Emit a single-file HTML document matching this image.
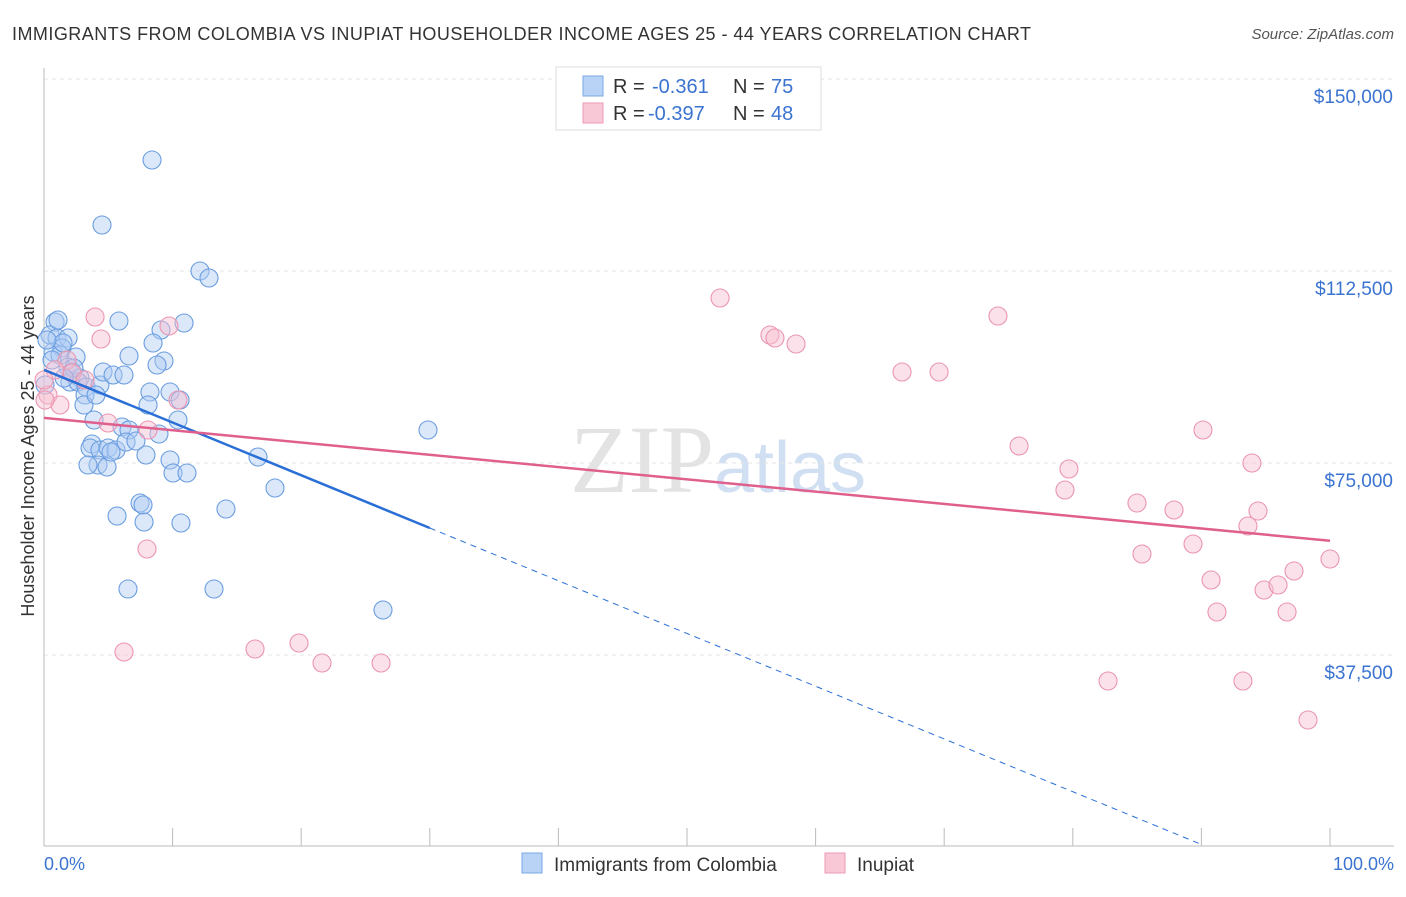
<!DOCTYPE html>
<html><head><meta charset="utf-8"><style>
body{margin:0;background:#fff;font-family:"Liberation Sans",sans-serif;}
</style></head><body>
<svg width="1406" height="892" xmlns="http://www.w3.org/2000/svg" font-family="Liberation Sans, sans-serif">
<text x="12" y="40" font-size="18" fill="#333" textLength="1019" lengthAdjust="spacing">IMMIGRANTS FROM COLOMBIA VS INUPIAT HOUSEHOLDER INCOME AGES 25 - 44 YEARS CORRELATION CHART</text>
<text x="1394" y="39" font-size="15" fill="#555" text-anchor="end" font-style="italic">Source: ZipAtlas.com</text>
<text x="718" y="492" font-size="96" text-anchor="middle" fill="#ddd" font-family="Liberation Serif, serif" opacity="0.8">ZIP<tspan fill="#c6d8ef" font-family="Liberation Sans, sans-serif" font-size="72">atlas</tspan></text>
<g id="grid"></g><g id="axes"></g><g id="pts"></g><g id="lines"></g>
<text transform="translate(34,456) rotate(-90)" font-size="18" fill="#333" text-anchor="middle">Householder Income Ages 25 - 44 years</text>
<text x="44" y="870" font-size="18" fill="#3a73d0">0.0%</text>
<text x="1394" y="870" font-size="18" fill="#3a73d0" text-anchor="end">100.0%</text>
<g>
<rect x="556" y="67" width="265" height="63" fill="#fff" stroke="#ddd"/>
<rect x="583" y="76" width="20" height="20" fill="#b8d3f5" stroke="#7aa8e6"/>
<rect x="583" y="103" width="20" height="20" fill="#f9c8d6" stroke="#eb9ab3"/>
<text x="613" y="93" font-size="20" fill="#333">R =</text>
<text x="652" y="93" font-size="20" fill="#3a73d0">-0.361</text>
<text x="733" y="93" font-size="20" fill="#333">N =</text>
<text x="771" y="93" font-size="20" fill="#3a73d0">75</text>
<text x="613" y="120" font-size="20" fill="#333">R =</text>
<text x="648" y="120" font-size="20" fill="#3a73d0">-0.397</text>
<text x="733" y="120" font-size="20" fill="#333">N =</text>
<text x="771" y="120" font-size="20" fill="#3a73d0">48</text>
</g>
<g>
<rect x="522" y="853" width="20" height="20" fill="#b8d3f5" stroke="#7aa8e6"/>
<text x="554" y="871" font-size="19" fill="#333">Immigrants from Colombia</text>
<rect x="825" y="853" width="20" height="20" fill="#f9c8d6" stroke="#eb9ab3"/>
<text x="857" y="871" font-size="19" fill="#333">Inupiat</text>
</g>
</svg>
<script>
const yTicks=[37500,75000,112500,150000];
const yTickLabels=["$37,500","$75,000","$112,500","$150,000"];
const xTicks=[0,10,20,30,40,50,60,70,80,90,100];
const bluePx=[[55,322],[50,335],[57,338],[68,338],[62,348],[53,352],[60,355],[76,357],[68,367],[72,372],[80,378],[70,382],[78,382],[86,387],[100,385],[103,372],[113,375],[124,375],[129,356],[119,321],[102,225],[152,160],[200,271],[209,278],[161,330],[184,323],[153,343],[164,361],[157,365],[150,392],[170,392],[180,400],[148,405],[178,420],[85,395],[84,405],[94,420],[122,427],[129,430],[159,434],[92,444],[90,448],[100,450],[108,448],[116,450],[126,442],[136,441],[98,465],[107,467],[146,455],[170,460],[173,473],[187,473],[258,457],[275,488],[140,503],[143,505],[117,516],[144,522],[181,523],[226,509],[128,589],[214,589],[383,610],[428,430],[45,385],[52,360],[63,343],[74,368],[96,395],[111,452],[88,465],[64,378],[58,320],[47,340]];
const pinkPx=[[95,317],[101,339],[169,326],[67,360],[72,373],[55,370],[85,380],[48,395],[60,405],[108,423],[148,430],[178,400],[147,549],[124,652],[255,649],[299,643],[322,663],[381,663],[720,298],[770,335],[775,338],[796,344],[902,372],[939,372],[998,316],[1019,446],[1069,469],[1065,490],[1137,503],[1174,510],[1203,430],[1142,554],[1193,544],[1252,463],[1258,511],[1248,526],[1211,580],[1217,612],[1264,590],[1278,585],[1294,571],[1287,612],[1330,559],[1108,681],[1243,681],[1308,720],[45,400],[44,380]];
const blueX=bluePx.map(p=>+((p[0]-44)/12.86).toFixed(2));
const blueY=bluePx.map(p=>Math.round((847-p[1])*195.3));
const pinkX=pinkPx.map(p=>+((p[0]-44)/12.86).toFixed(2));
const pinkY=pinkPx.map(p=>Math.round((847-p[1])*195.3));
const blueTrend=[[0,93200],[30,62300],[90,500]];
const pinkTrend=[[0,83800],[100,59800]];
const sx=v=>44+v*12.86, sy=v=>847-v/195.3;
const NS="http://www.w3.org/2000/svg";
function mk(t,a,parent){const e=document.createElementNS(NS,t);for(const k in a)e.setAttribute(k,a[k]);document.getElementById(parent).appendChild(e);return e;}
yTicks.forEach((t,i)=>{
 const l=mk('line',{x1:44,x2:1394,y1:sy(t),y2:sy(t),stroke:'#e4e4e4','stroke-dasharray':'4,4'},'grid');
 
 
 const tx=mk('text',{x:1393,y:sy(t)+24,'font-size':19,fill:'#3a73d0','text-anchor':'end'},'grid');
 tx.textContent=yTickLabels[i];
 
 
});
const ax=mk('line',{x1:44,x2:44,y1:68,y2:846,stroke:'#bbb'},'axes');


const bx=mk('line',{x1:44,x2:1394,y1:846,y2:846,stroke:'#bbb'},'axes');


xTicks.forEach(t=>{
 const l=mk('line',{x1:sx(t),x2:sx(t),y1:828,y2:846,stroke:'#bbb'},'axes');
 
 
});
function pts(X,Y,fill,stroke,name){X.forEach((x,i)=>{
 const c=mk('circle',{cx:sx(x),cy:sy(Y[i]),r:9,fill:fill,'fill-opacity':0.45,stroke:stroke,'stroke-width':1.1},'pts');
 
 
});}
pts(blueX,blueY,'#b0cdf3','#6a9de0','colombia-point');
pts(pinkX,pinkY,'#f7bfd0','#eb95b0','inupiat-point');
const b1=mk('line',{x1:sx(blueTrend[0][0]),y1:sy(blueTrend[0][1]),x2:sx(blueTrend[1][0]),y2:sy(blueTrend[1][1]),stroke:'#2a6fd6','stroke-width':2.5},'lines');


const b2=mk('line',{x1:sx(blueTrend[1][0]),y1:sy(blueTrend[1][1]),x2:sx(blueTrend[2][0]),y2:sy(blueTrend[2][1]),stroke:'#2a6fd6','stroke-width':1,'stroke-dasharray':'6,5'},'lines');


const p1=mk('line',{x1:sx(pinkTrend[0][0]),y1:sy(pinkTrend[0][1]),x2:sx(pinkTrend[1][0]),y2:sy(pinkTrend[1][1]),stroke:'#e0608d','stroke-width':2.5},'lines');


</script>
</body></html>
